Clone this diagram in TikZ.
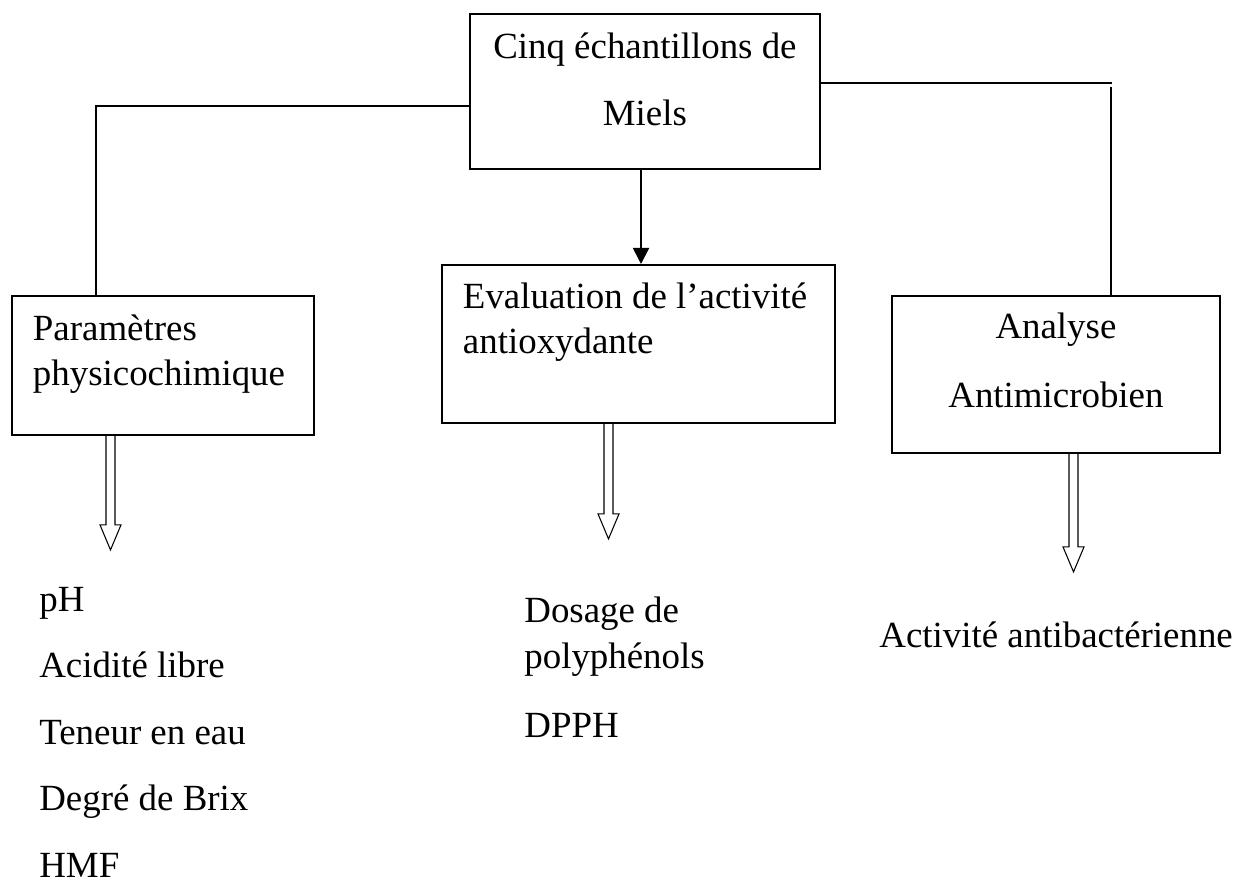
\documentclass[tikz,border=0pt]{standalone}
\usepackage{fontspec}
\setmainfont{Liberation Serif}
\usetikzlibrary{arrows.meta,calc}

\tikzset{
  txt/.style={font=\fontsize{21}{25.6}\selectfont},
  boxe/.style={draw, line width=1.1pt, inner ysep=0pt, anchor=north west, txt},
  listitem/.style={anchor=base west, inner sep=0pt, txt},
  thinarrow/.style={line width=0.6pt, line join=miter},
}
% fleche creuse : point de depart, longueur de la tige
\newcommand{\hollowarrow}[2]{%
  \draw[thinarrow] #1 ++(-4.5,0) -- ++(0,#2) -- ++(-6,0) -- ++(10.5,25) -- ++(10.5,-25) -- ++(-6,0) -- ++(0,-#2);}

\begin{document}
\begin{tikzpicture}[x=0.02cm, y=-0.02cm]
        \useasboundingbox (0,0) rectangle (1239,884);
        % Boites
        \node[boxe, inner xsep=0pt, text width=7cm, align=flush center, text height=0.9cm, text depth=2.2cm,
              font=\fontsize{21}{38.1}\selectfont] (miels) at (469,13) {Cinq échantillons de\\Miels};
        \node[boxe, inner xsep=0.42cm, text width=5.2cm, align=flush left, text height=0.9cm, text depth=1.88cm] (param) at (11,295) {Paramètres\\physicochimique};
        \node[boxe, inner xsep=0.42cm, text width=7.02cm, align=flush left, text height=0.88cm, text depth=2.28cm] (eval) at (441,264) {Evaluation de l’activité\\antioxydante};
        \node[boxe, inner xsep=0pt, text width=6.56cm, align=flush center, text height=0.86cm, text depth=2.28cm,
              font=\fontsize{21}{39.2}\selectfont] (analyse) at (891,295) {Analyse\\Antimicrobien};
        % Liaisons
        \coordinate (lturn) at (96,106);
        \coordinate (rturn) at (1112,83);
        \draw[line width=1.1pt] (miels.west |- lturn) -- (lturn) -- (param.north -| lturn);
        \draw[line width=1.1pt] (miels.east |- rturn) -- (rturn);
        \draw[line width=1.1pt] (1111,87) -- (analyse.north -| 1111,0);
        \draw[line width=1.1pt, -{Triangle[length=0.32cm, width=0.32cm]}] (miels.south -| 641,0) -- (eval.north -| 641,0);
        % Fleches creuses
        \hollowarrow{($(param.south west)+(99.5,0)$)}{89}
        \hollowarrow{($(eval.south west)+(167.5,0)$)}{90}
        \hollowarrow{($(analyse.south west)+(182.5,0)$)}{93}
        % Listes
        \foreach \txt [count=\i] in {pH, Acidité libre, Teneur en eau, Degré de Brix, HMF}
          \node[listitem] (phys\i) at (39,{611+66.5*(\i-1)}) {\txt};
        \node[listitem] (dosage) at (524,622) {Dosage de};
        \node[listitem] (polyph) at (524,668) {polyphénols};
        \node[listitem] (dpph) at (524,737) {DPPH};
        \node[listitem] (antibac) at (879,647) {Activité antibactérienne};
    \end{tikzpicture}
\end{document}
